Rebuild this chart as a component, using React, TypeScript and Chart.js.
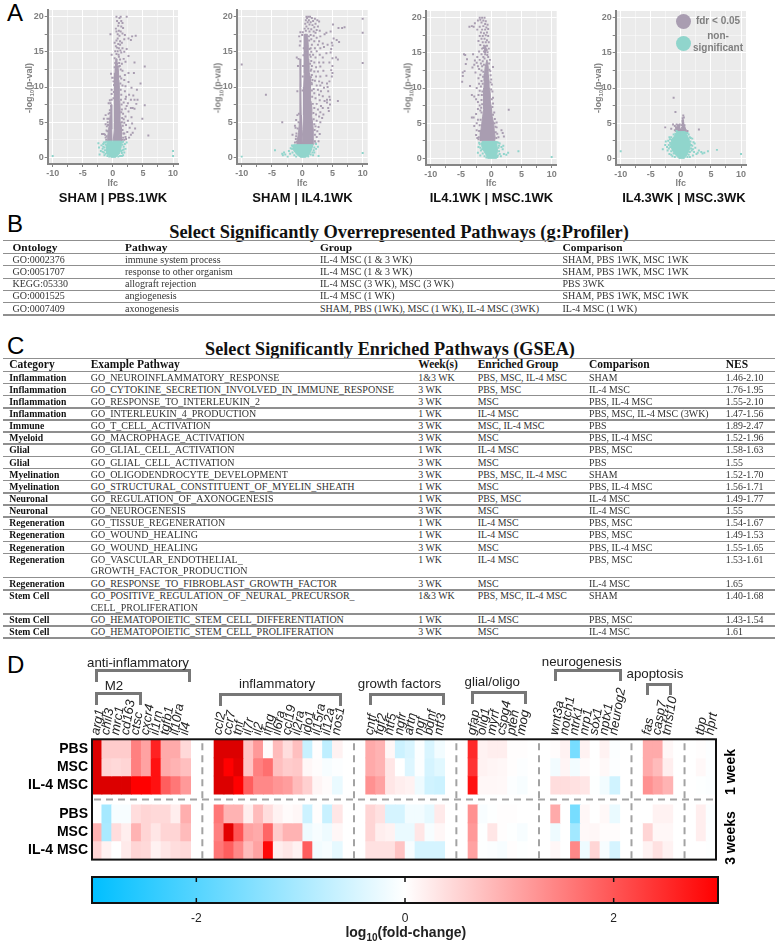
import React, { useEffect, useRef } from 'react';
import { Chart, registerables } from 'chart.js';
Chart.register(...registerables);

const SANS = '"Liberation Sans", Arial, sans-serif';
const SERIF = '"Liberation Serif", "Times New Roman", serif';
type P = [number, number];

// ---------- Panel A: volcano plots ----------
const xTickValues = [-10, -7.5, -5, -2.5, 0, 2.5, 5, 7.5, 10];
const yTickValues = [0, 2.5, 5, 7.5, 10, 12.5, 15, 17.5, 20];

const pbsSigCore: P[] = [[0.05,2.3],[1.5,2.3],[1.5,3],[1.4,4],[1.3,5],[1.2,6],[1.2,7],[1.15,8],[1.1,9],[1.05,10],[1,11],[0.95,12],[0.85,13],[0.7,14],[0.5,14],[0.35,12],[0.3,10],[0.3,8],[0.25,6],[0.2,4],[0.05,2.3]];
const pbsSigCoreLeft: P[] = [[-0.9,2.3],[-0.85,3],[-0.7,4],[-0.55,5],[-0.45,6],[-0.35,7],[-0.25,7.5],[-0.2,6],[-0.15,4],[-0.12,2.3],[-0.9,2.3]];
const pbsNsCore: P[] = [[-0.3,0],[0.5,0],[1.1,0.5],[1.4,1.5],[1.4,2.3],[-0.9,2.3],[-1.1,1.5],[-1,0.5],[-0.3,0]];
const pbsSigDots: P[] = [[0.6,20],[1.3,20],[2.3,20],[1.1,19.8],[0.7,19.4],[1.6,19.1],[0.9,18.7],[0.5,18.3],[1.4,18.6],[-0.4,17.5],[0.6,17.9],[1,18],[1.6,17.6],[2,17.4],[3.2,17.2],[3.8,17.3],[1.9,16.8],[2.6,16.9],[3,16.7],[0.8,16.9],[0.6,16.6],[1.2,16.5],[0.9,16.1],[1.5,16.3],[0.5,15.8],[1,15.5],[1.6,15.5],[2.3,15.4],[0.4,15.1],[1.4,14.9],[1.9,15],[2.6,14.4],[1,14.3],[0.3,14.1],[1.2,13.9],[-0.2,14.6],[1.8,14],[2.1,13.6],[3.6,13.5],[1.5,13.3],[0.7,13.3],[1,12.9],[5.3,12.9],[3.5,12],[2.6,12],[0.5,12.5],[1.6,12.3],[2,11.7],[1.4,11.2],[1.9,11],[-0.1,11.3],[-0.3,11.9],[2.6,10.7],[0.1,10.8],[4.6,10.5],[1.6,10.2],[2.1,10.1],[3.1,9.9],[4,9.6],[2,9.4],[-0.2,9.6],[-0.2,9],[2.7,8.9],[3.4,8.8],[2.2,8.6],[3,8.2],[3.6,8.2],[4.1,8.2],[2.1,8.3],[-0.5,8.1],[-0.7,7.7],[1.8,7.8],[2.5,7.7],[3.9,7.6],[5.3,7.4],[-0.3,7.3],[2.3,7.3],[3,7],[3.3,7],[3.6,6.9],[-0.5,6.7],[2.1,6.9],[2.6,6.5],[4.9,5.5],[-1.2,6],[-0.9,5.5],[-1.5,5.5],[2.1,5.8],[3.1,5.7],[2.5,5.2],[1.7,6.2],[1.8,5.4],[1.9,4.9],[3.2,4.8],[-1.2,4.7],[-1,4.4],[2.2,4.6],[2.8,4.2],[3.7,4.1],[2.4,3.6],[3.3,3.5],[5.9,3.1],[-1.8,3.3],[-1.5,3.3],[-1.3,3.2],[3,3.2],[2.7,2.8],[2.1,2.9],[1.9,3.4],
  [1.3,12.5],[1.2,11.5],[1.25,10.5],[1.3,9.6],[1.4,8.9],[1.35,8.2],[1.45,7.5],[1.5,6.8],[1.4,6.4],[1.55,5.6],[1.5,5],[1.65,4.5],[1.6,3.9],[1.75,3.4],[1.7,2.8],[1.6,2.5],[1.9,2.5],[2.2,2.6],[-1.1,2.5],[-1.05,3],[-1.2,2.8],[-0.9,3.7],[-1.05,3.8],[-0.8,4.6],[-0.85,5],[-0.65,5.5],[-0.7,6.2],[-0.5,6.3],[-0.4,7.7],[-0.2,8.2],[0.1,8.4],[0.15,9.3],[0.2,10.3],[0.25,11.3],[0.3,12.8],[0.4,13.4],[1.05,13.4],[1.15,13],[0.95,14.6],[0.6,14.7],[0.8,15.1],[1.25,15.2],[0.7,15.6],[1.2,16],[0.3,16.3],[1.1,17.3],[0.8,17.5],[1.3,17.9],[1.7,18.4],[1.4,19.4],[1,19.1]];
const pbsNsDots: P[] = [[-10,0.2],[10,0.9],[10,0.2],[-2.2,0.4],[-2,0.9],[-2.3,1.4],[-1.9,1.7],[-1.6,1.9],[-1.5,0.7],[-1.7,1.2],[1.9,0.7],[2.1,1.2],[2,1.9],[2.3,2.1],[1.7,0.3],[1.8,1.5],[-2.4,2],[-1.4,0.3],[1.5,0.2],
  [-1.3,1],[-1.2,1.8],[-1.4,1.4],[-1.3,2.1],[-1.1,2.2],[-1.2,0.5],[-0.9,0.2],[-0.6,0.1],[1.5,0.6],[1.2,0.2],[0.9,0.1],[1.6,1],[1.6,1.8],[1.7,2.2],[1.5,2.1],[1.8,1.1],[1.4,0.9],[-1.6,1.5],[-1.5,2.1],[-1.7,0.8]];

const il4SigCore: P[] = [[-0.05,1.8],[1.8,1.8],[1.85,2.5],[1.8,4],[1.7,5],[1.55,6],[1.6,7],[1.45,8],[1.45,9],[1.4,10],[1.3,11],[1.2,12],[1.15,13],[1.1,14],[1,15],[1,16],[0.9,17],[0.85,17.5],[0.45,17.5],[0.4,16],[0.35,14],[0.3,12],[0.25,10],[0.2,8],[0.2,6],[0.1,4],[-0.05,1.8]];
const il4SigCoreLeft: P[] = [[-0.9,1.8],[-0.8,2.5],[-0.6,3.5],[-0.45,5],[-0.38,7],[-0.38,10],[-0.36,14],[-0.27,14],[-0.22,10],[-0.17,6],[-0.12,1.8],[-0.9,1.8]];
const il4NsCore: P[] = [[-0.3,0],[0.6,0],[1.1,0.3],[1.5,1],[1.8,1.8],[-1.4,1.8],[-1.5,1.1],[-0.9,0.4],[-0.3,0]];
const il4SigDots: P[] = [[0.7,20],[1,20],[1.3,20],[0.8,19.8],[1.6,19.8],[2.1,19.7],[0.6,19.5],[1.1,19.5],[1.8,19.4],[2.5,19.5],[0.9,19.2],[1.4,19.2],[2.2,19],[2.8,19.3],[0.5,19],[1.2,18.9],[1.7,18.8],[0.7,18.6],[2,18.5],[2.6,18.6],[5.1,18.9],[6,18.4],[6.6,18.4],[7,18.5],[10,19.7],[0.4,18.3],[1,18.3],[1.5,18.2],[2.4,18.1],[2.9,18],[0.6,18],[1.2,17.9],[1.9,17.9],[2.2,17.7],[-0.3,17.8],[0.1,17.8],[4,17.7],[4.7,17.9],[10,17.7],[-0.5,17.2],[1.4,17.4],[1.9,17.3],[3,17.2],[2.4,17],[0,17.4],[3.7,17.5],[-0.3,16.5],[-0.4,15.9],[1.5,16.8],[2,16.5],[2.8,16.5],[5.2,16.9],[5.7,16.7],[6.1,16.4],[4.9,16.3],[1.6,16],[2.6,16],[3.4,16.2],[4.2,16],[5,15.9],[1.4,15.5],[2.1,15.5],[3,15.5],[3.6,15.7],[4.8,15.4],[1.5,15],[2.4,15.1],[1.8,14.6],[2.9,14.6],[4,14.8],[4.7,14.9],[1.4,14.3],[2.2,14.2],[3.4,14.2],[5,14.1],[5.6,14.2],[5.9,13.9],[-0.9,14.2],[-0.6,14],[1.5,13.7],[2,13.5],[2.8,13.5],[3.5,13.5],[4.5,13.5],[-10,13.2],[10,13.4],[-0.7,13],[1.6,13],[2.3,12.8],[3,12.9],[5,13],[1.5,12.5],[2,12.2],[2.6,12.2],[3.5,12.3],[4.8,12.4],[5,12],[1.6,11.7],[2.3,11.5],[3,11.5],[4,11.6],[4.9,11.5],[1.7,11],[2.1,10.9],[2.8,10.8],[3.3,10.6],[4.5,10.8],[4.1,10.5],[1.6,10.4],[2.4,10.2],[3,10.2],[3.6,9.9],[4.2,10],[-0.8,9.4],[1.9,9.7],[2.6,9.6],[3.1,9.4],[4.3,9.4],[-6,8.9],[2,9.1],[2.8,8.9],[3.4,8.7],[4.5,8.6],[4.1,8.2],[4.6,8.2],[5.9,8],[2.2,8.4],[2.9,8.1],[3.7,8],[4.1,7.8],[4.6,7.5],[2.4,7.6],[3.1,7.3],[3.4,7],[4.3,7],[4.4,6.6],[2,7],[2.6,6.8],[3,6.4],[3.5,6.1],[2.3,6.1],[2.8,5.8],[3.3,5.6],[-0.8,6],[-1,5.3],[2.4,5.2],[3,5],[-3.3,5],[-1.2,4.5],[-1.1,4.2],[2.2,4.4],[2.7,4.3],[2.5,3.7],[2.9,3.3],[2.4,2.9],[-1.6,3.2],[-1,3],[2.7,2.3],
  [1.75,7.6],[1.65,8.6],[1.6,9.5],[1.55,10.6],[1.45,11.4],[1.4,12.3],[1.3,13.3],[1.25,14.6],[1.2,15.4],[1.15,16.6],[1.1,17.2],[1.85,6.3],[1.9,5.4],[2,4.7],[2.05,3.9],[2.1,3.2],[2.1,2.3],[2.2,2],[0.25,15.5],[0.2,14.5],[0.15,13],[0.1,11.5],[0.05,9.5],[-0.55,6.2],[-0.6,5],[-0.75,4.1],[-0.95,3.4],[-1.05,2.6],[-1.2,2.1],[-0.9,2.2]];
const il4NsDots: P[] = [[-10,0.1],[10,0.6],[-4.5,1],[-3.3,0.5],[-3,0.7],[-2.8,0.4],[-3.2,0.3],[-2.2,0.9],[-2,0.5],[-1.9,1.3],[-1.7,1.7],[2.6,1.5],[2.3,1.9],[2.3,1.2],[2,0.7],[1.8,0.3],[2.7,0.2],[-2.4,0.1],
  [-1.6,0.7],[-1.3,0.3],[-1.7,1.2],[-1.6,1.6],[1.7,0.7],[1.4,0.4],[2,1.4],[1.9,1],[-1,0.1],[1,0.1]];

const mscSigCore: P[] = [[-1.8,2.5],[0.6,2.5],[0.65,3],[0.5,4],[0.4,5],[0.15,6],[0.05,7],[-0.1,8],[-0.15,9],[-0.25,10],[-0.35,11],[-0.5,12],[-0.5,13],[-0.7,14],[-0.8,14],[-1,13],[-1.1,12],[-1.15,11],[-1.2,10],[-1.2,9],[-1.2,8],[-1.3,7],[-1.4,6],[-1.55,5],[-1.7,4],[-1.8,3],[-1.8,2.5]];
const mscSigCoreLeft: P[] = [[-1.05,15],[-0.9,15],[-0.9,16],[-1.05,16],[-1.05,15]];
const mscNsCore: P[] = [[-0.6,0],[0.8,0],[0.9,0.5],[1.05,1],[0.9,2.4],[-1.5,2.4],[-1.6,1.8],[-1.2,1],[-0.85,0.5],[-0.6,0]];
const mscSigDots: P[] = [[-1.9,20],[-1.5,20],[-1.1,20],[-2.2,19.6],[-1.8,19.7],[-1.3,19.6],[-0.9,19.5],[-2.7,19.2],[-1.6,19.3],[-1,19.1],[-0.6,19],[-3.2,18.8],[-3.6,18.7],[-2.9,18.7],[-1.9,18.7],[-1.3,18.8],[-0.8,18.6],[-2.3,18.3],[-1.5,18.3],[-1,18.3],[-0.5,18.4],[-1.7,17.9],[-1.2,17.8],[-0.7,17.9],[-1.9,17.4],[-1.4,17.4],[-0.9,17.5],[-0.5,17.4],[-1.6,17],[-1.1,17],[-0.7,16.8],[-2.1,16.7],[-1.4,16.5],[-0.9,16.5],[-0.4,16.5],[-1.8,16.1],[-1.2,16],[-0.7,16],[-1.5,15.6],[-0.9,15.6],[-0.4,15.6],[-2,15.2],[-1.2,15.2],[-0.6,15.1],[-4.5,14.8],[-4.3,14.7],[-3,14.8],[-1.6,14.8],[-1,14.8],[-2.3,14.4],[-1.3,14.4],[-0.5,14.4],[-4,14.1],[-2.7,13.9],[-1.9,14],[-1.4,13.8],[-0.2,14],[-2.4,13.6],[-1.7,13.5],[-4.2,13.4],[-2.8,13.3],[-2.2,13.1],[-1.5,13.1],[0.3,13],[-3.1,12.9],[-2,12.7],[-1.6,12.5],[-0.3,12.6],[-2.6,12.2],[-4.7,12.2],[-4.4,12.4],[-1.8,11.9],[-0.1,11.8],[-4.7,11.7],[-2.1,11.4],[-1.6,11],[0,11.2],[-4.8,10.9],[-2,10.6],[-3.5,10.3],[-1.7,10.2],[0.1,10.5],[-2.4,10],[-1.9,9.6],[0.2,9.5],[-2.1,9],[-3.2,9],[-2.8,8.8],[-2.5,8.4],[-1.6,8.3],[0.3,8.6],[-2.2,8],[0.3,7.8],[-1.9,7.5],[-2.2,7],[2.9,6.9],[-1.8,6.8],[0.5,6.5],[-2.5,6.3],[-3.2,5.8],[-2.9,5.8],[-2.2,5.5],[0.6,5.6],[0.9,5.1],[-2.4,5],[-2.8,4.6],[0.9,4.4],[1.7,4],[1.9,3.6],[2.1,3.1],[-2.4,4],[-2.5,3.3],[1,3.5],[1.2,3],[-2.3,2.9],
  [-1.45,9.5],[-1.4,10.6],[-1.35,11.6],[-1.3,12.3],[-1.2,13.3],[-0.35,13.5],[-0.15,12.4],[-0.1,10.8],[0,9.8],[0.1,8.4],[0.2,7.3],[0.3,6.2],[0.55,5],[0.7,4.5],[0.75,3.7],[0.85,2.9],[-1.5,7.7],[-1.6,6.5],[-1.75,5.5],[-1.9,4.7],[-2,3.9],[-2.05,3],[-2.1,2.7],[-1.65,7.2],[-1.55,9],[-0.95,15.3],[-1.1,14.2],[-0.75,15.4],[-0.65,14.7],[-1.3,15.7]];
const mscNsDots: P[] = [[10,0.2],[4.5,1],[2.8,0.8],[2.1,0.6],[2.5,0.5],[1.7,1.6],[1.9,1.3],[2,1.8],[1.4,0.6],[1.6,0.3],[-2.2,0.8],[-1.8,0.4],[-2,2.2],[-2.1,1.6],[1.4,2.1],
  [-1.7,1.1],[-1.8,1.5],[-1.4,0.7],[-1.1,0.3],[-0.8,0.1],[1.2,1.5],[1.3,1],[1.1,0.4],[1,0.2],[1.2,2.2],[1,2.3],[-1.9,2],[-1.6,2.1],[1.3,1.8],[-1.5,1.3]];

const wk3SigCore: P[] = [[-0.8,3.8],[0.9,3.8],[0.8,4.1],[0.55,4.8],[0.35,4.8],[0.3,4.1],[-0.1,4.1],[-0.25,4.8],[-0.8,4.4],[-0.8,3.8]];
const wk3SigCoreLeft: P[] = [[0.25,4.8],[0.5,4.8],[0.45,5.5],[0.3,5.5],[0.25,4.8]];
const wk3NsCore: P[] = [[-0.35,0],[0.6,0],[1.05,0.5],[1.45,1.3],[1.6,2],[1.2,3],[0.75,3.8],[-0.6,3.8],[-1.2,3],[-1.75,2],[-1.45,1.2],[-0.9,0.5],[-0.35,0]];
const wk3SigDots: P[] = [[-1.2,8.6],[-0.9,6.6],[0.4,6.1],[0.3,5.7],[0.5,5.8],[0.3,5.3],[0.4,5],[-1.3,4.8],[-1,4.6],[-0.7,4.8],[-0.5,4.7],[-0.2,4.8],[0.1,4.7],[0.3,4.7],[0.6,4.7],[-1.6,4.2],[-2.6,4.4],[-0.8,4.4],[-0.6,4.2],[-0.3,4.5],[-0.1,4.1],[0.2,4.3],[0.4,4.2],[0.6,4.2],[0.8,4],[1.1,3.9],[3,4.1],[-1,4],[-0.7,3.9],[-0.4,4],[0,3.9],[0.3,3.9]];
const wk3NsDots: P[] = [[-10,1],[10,0.6],[6,1.2],[4.5,1],[3.9,0.8],[3.6,0.7],[3.4,0.9],[3,1.1],[2.8,0.8],[2.4,1.5],[2.6,0.6],[2.2,0.9],[2,1.3],[2.3,2.1],[1.9,2.8],[2,0.4],[1.5,0.2],[-2.3,1.6],[-2.1,2.5],[-2.5,2.4],[-2.2,1.1],[-1.9,0.6],[-1.4,0.3],[-1.6,3],[-1.2,3.4],[1.5,3],[1.3,3.4],[1.1,3.6],[-3,1.3],[-2.6,1.9],[1.9,1.8],[2.1,2.3],[-1.9,3],
  [-1.8,2.2],[-1.75,1.6],[-1.6,1],[-1.8,2.7],[-1.5,2.6],[-1.35,2.8],[-1.2,0.7],[-1,0.2],[-0.7,3.9],[-0.9,3.5],[0.9,3.6],[1.3,2.7],[1.6,2.4],[1.7,1.9],[1.7,1.4],[1.5,0.9],[1.3,0.5],[1.1,0.2],[1.65,2.9],[1.8,1.1],[-2,1.9],[-2,1.4],[-1.6,0.5]];

const volcanoTitles = ['SHAM | PBS.1WK', 'SHAM | IL4.1WK', 'IL4.1WK | MSC.1WK', 'IL4.3WK | MSC.3WK'];

// ---------- Panel B ----------
const gpHeaders = ['Ontology', 'Pathway', 'Group', 'Comparison'];
const gpOntology = ['GO:0002376', 'GO:0051707', 'KEGG:05330', 'GO:0001525', 'GO:0007409'];
const gpPathway = ['immune system process', 'response to other organism', 'allograft rejection', 'angiogenesis', 'axonogenesis'];
const gpGroup = ['IL-4 MSC (1 & 3 WK)', 'IL-4 MSC (1 & 3 WK)', 'IL-4 MSC (3 WK), MSC (3 WK)', 'IL-4 MSC (1 WK)', 'SHAM, PBS (1WK), MSC (1 WK), IL-4 MSC (3WK)'];
const gpComparison = ['SHAM, PBS 1WK, MSC 1WK', 'SHAM, PBS 1WK, MSC 1WK', 'PBS 3WK', 'SHAM, PBS 1WK, MSC 1WK', 'IL-4 MSC (1 WK)'];

// ---------- Panel C ----------
const gseaHeaders = ['Category', 'Example Pathway', 'Week(s)', 'Enriched Group', 'Comparison', 'NES'];
const gseaCategory = ['Inflammation','Inflammation','Inflammation','Inflammation','Immune','Myeloid','Glial','Glial','Myelination','Myelination','Neuronal','Neuronal','Regeneration','Regeneration','Regeneration','Regeneration','Regeneration','Stem Cell','Stem Cell','Stem Cell'];
const gseaPathway = ['GO_NEUROINFLAMMATORY_RESPONSE','GO_CYTOKINE_SECRETION_INVOLVED_IN_IMMUNE_RESPONSE','GO_RESPONSE_TO_INTERLEUKIN_2','GO_INTERLEUKIN_4_PRODUCTION','GO_T_CELL_ACTIVATION','GO_MACROPHAGE_ACTIVATION','GO_GLIAL_CELL_ACTIVATION','GO_GLIAL_CELL_ACTIVATION','GO_OLIGODENDROCYTE_DEVELOPMENT','GO_STRUCTURAL_CONSTITUENT_OF_MYELIN_SHEATH','GO_REGULATION_OF_AXONOGENESIS','GO_NEUROGENESIS','GO_TISSUE_REGENERATION','GO_WOUND_HEALING','GO_WOUND_HEALING','GO_VASCULAR_ENDOTHELIAL_\nGROWTH_FACTOR_PRODUCTION','GO_RESPONSE_TO_FIBROBLAST_GROWTH_FACTOR','GO_POSITIVE_REGULATION_OF_NEURAL_PRECURSOR_\nCELL_PROLIFERATION','GO_HEMATOPOIETIC_STEM_CELL_DIFFERENTIATION','GO_HEMATOPOIETIC_STEM_CELL_PROLIFERATION'];
const gseaWeeks = ['1&3 WK','3 WK','3 WK','1 WK','3 WK','3 WK','1 WK','3 WK','3 WK','1 WK','1 WK','3 WK','1 WK','1 WK','3 WK','1 WK','3 WK','1&3 WK','1 WK','3 WK'];
const gseaGroup = ['PBS, MSC, IL-4 MSC','PBS, MSC','MSC','IL-4 MSC','MSC, IL-4 MSC','MSC','IL-4 MSC','MSC','PBS, MSC, IL-4 MSC','MSC','PBS, MSC','MSC','IL-4 MSC','IL-4 MSC','MSC','IL-4 MSC','MSC','PBS, MSC, IL-4 MSC','IL-4 MSC','MSC'];
const gseaComparison = ['SHAM','IL-4 MSC','PBS, IL-4 MSC','PBS, MSC, IL-4 MSC (3WK)','PBS','PBS, IL-4 MSC','PBS, MSC','PBS','SHAM','PBS, IL-4 MSC','IL-4 MSC','IL-4 MSC','PBS, MSC','PBS, MSC','PBS, IL-4 MSC','PBS, MSC','IL-4 MSC','SHAM','PBS, MSC','IL-4 MSC'];
const gseaNes = ['1.46-2.10','1.76-1.95','1.55-2.10','1.47-1.56','1.89-2.47','1.52-1.96','1.58-1.63','1.55','1.52-1.70','1.56-1.71','1.49-1.77','1.55','1.54-1.67','1.49-1.53','1.55-1.65','1.53-1.61','1.65','1.40-1.68','1.43-1.54','1.61'];

// ---------- Panel D ----------
const geneGroups = [
  ['arg1','chil3','mrc1','cd163','ctsc','cxcr4','il1rn','tgfb1','il10ra','il4'],
  ['ccl2','ccr7','tnf','il7r','il2','ifng','il6ra','ccl19','il2ra','ido1','il15ra','il12a','nos1'],
  ['cntf','fgf2','ntf5','ngfr','artn','ngf','bdnf','ntf3'],
  ['gfap','olig1','myrf','cspg4','pten','mog'],
  ['wnt3a','notch1','ntrk1','nrp1','sox1','nptx1','neurog2'],
  ['fas','casp7','tnfsf10'],
  ['tbp','hprt'],
];
const rowLabels = ['PBS', 'MSC', 'IL-4 MSC', 'PBS', 'MSC', 'IL-4 MSC'];
const pbs1wk = [3.5,.6,.6,.6,1.5,1.1,2.6,1,1,.45, 3.5,3.5,3.5,.7,1.2,.05,.8,.4,.75,-.65,.02,-.75,.15, 1,.9,.1,-.6,-.45,-.05,-.45,-.15, 2.5,.15,.2,.2,.02,.02, .03,.15,-1.6,.15,0,.15,-.05, 1,1,.1, .02,-.03];
const msc1wk = [3.5,.5,.45,.5,1.5,1.1,2.8,1,.9,.75, 3.5,3,3.4,.7,1.5,1.7,.75,.6,.65,.1,.03,-.1,-.03, 1,.9,.3,0,-.4,-.05,-.5,-.35, 2.4,.15,.12,.1,.02,-.03, -.15,.12,-.15,.05,0,.08,-.04, 1,.8,.2, .08,-.04];
const il4msc1wk = [3.5,3.5,3.5,3.5,3,3,2.8,1.9,1.6,1.2, 3.5,3.5,3,1.9,1.4,1.4,1.25,1.15,.8,.55,.12,.05,-.25, 1.3,1.1,.3,.2,.15,-.2,-.55,-.6, 2.8,.1,.1,.08,-.03,-.1, .4,.4,.35,.3,-.02,-.15,-.55, 1.3,1.1,.9, -.02,-.05];
const pbs3wk = [0,-1.05,-.1,-.1,.4,.5,.45,.45,.2,.95, 1.6,.9,.9,.2,.8,.4,.15,.05,.1,-.6,.02,-.65,.3, .5,.35,-.5,-.5,-.15,-.15,-.3,.25, 1.3,-.08,-.02,.02,.02,0, 1,0,-1.6,.1,0,.08,-.25, 0,.15,.15, .2,-.05];
const msc3wk = [.9,-1,.4,.2,.9,.5,.3,.5,.5,.8, 1.5,3.4,2,1.1,1,1.8,.6,.9,.9,-.2,-.1,-.2,.1, .5,.2,.15,-.25,-.25,.3,-.1,.1, 1.2,-.02,.3,.02,-.02,-.1, -.2,0,-1.1,.08,.1,.03,.03, .5,.1,.1, .2,-.03];
const il4msc3wk = [.5,.15,0,.25,.5,.45,.15,.3,.4,.45, 1.6,1.9,1.4,.8,1.1,2.9,.2,.3,.15,1.9,-.15,-.1,-.3, .35,.35,.35,.7,-.1,-.5,-.5,-.5, 1.1,-.02,-.05,-.1,.02,-.02, .1,0,1.4,-.2,.5,-.1,-.5, .15,.35,.15, 0,-.02];
const heatRows = [pbs1wk, msc1wk, il4msc1wk, pbs3wk, msc3wk, il4msc3wk];
const colorbarRange: [number, number] = [-3, 3];
const colorbarTicks = [-2, 0, 2];

const PURPLE = '#a99db1';
const TEAL = '#90d5cc';

function heatColor(v: number) {
  if (v >= 0) {
    if (v > 3) {
      const t = Math.min(1, (v - 3) / 0.5);
      return `rgb(${255 - 35 * t},0,0)`;
    }
    const a = v / 3;
    return `rgb(255,${255 * (1 - a)},${255 * (1 - a)})`;
  }
  const a = Math.min(1, -v / 3);
  return `rgb(${255 * (1 - a)},${255 - 64 * a},255)`;
}

const toXY = (l: P[]) => l.map(([x, y]) => ({ x, y }));

function plotBackground(fill: string) {
  return {
    id: 'plotBg',
    beforeDraw(c: any) {
      const a = c.chartArea;
      c.ctx.save();
      c.ctx.fillStyle = fill;
      c.ctx.fillRect(a.left, a.top, a.right - a.left, a.bottom - a.top);
      c.ctx.restore();
    },
  };
}

function volcano(core: P[], coreB: P[], ns: P[], sigDots: P[], nsDots: P[], box: { w: number; h: number; l: number; r: number; t: number; b: number }) {
  const dots = (data: P[], color: string) => ({ data: toXY(data), backgroundColor: color, pointStyle: 'rect', pointRadius: 1.4, borderWidth: 0, showLine: false });
  const poly = (data: P[], color: string) => ({ data: toXY(data), backgroundColor: color, borderColor: color, borderWidth: 1, pointRadius: 0, showLine: true, fill: 'shape', tension: 0 });
  const tick = { color: '#808080', font: { family: SANS, size: 9, weight: 'bold' as const }, autoSkip: false, maxRotation: 0, callback: (v: number) => (v % 5 === 0 ? String(v) : '') };
  return {
    type: 'scatter',
    data: { datasets: [dots(nsDots, TEAL), poly(ns, TEAL), dots(sigDots, PURPLE), poly(core, PURPLE), poly(coreB, PURPLE)] },
    plugins: [plotBackground('#ebebeb')],
    options: {
      animation: false, responsive: false, devicePixelRatio: 1,
      layout: { padding: { top: box.t, right: box.r, left: 0, bottom: 0 } },
      plugins: { legend: { display: false }, tooltip: { enabled: false } },
      scales: {
        x: {
          type: 'linear', min: -10.83, max: 10.83,
          afterBuildTicks: (s: any) => { s.ticks = xTickValues.map((value) => ({ value })); },
          afterFit: (s: any) => { s.height = box.b; },
          border: { color: '#858585', width: 2 },
          grid: { color: (c: any) => (c.tick && c.tick.value % 5 === 0 ? '#ffffff' : 'rgba(255,255,255,.45)'), tickColor: '#858585', tickLength: 3, lineWidth: 1 },
          ticks: { ...tick, padding: 1 },
        },
        y: {
          type: 'linear', min: -0.95, max: 20.95,
          afterBuildTicks: (s: any) => { s.ticks = yTickValues.map((value) => ({ value })); },
          afterFit: (s: any) => { s.width = box.l; },
          border: { color: '#858585', width: 2 },
          grid: { color: (c: any) => (c.tick && c.tick.value % 5 === 0 ? '#ffffff' : 'rgba(255,255,255,.45)'), tickColor: '#858585', tickLength: 3, lineWidth: 1 },
          ticks: { ...tick, padding: 1 },
        },
      },
    },
  };
}

// Horizontal position of every heat-map column, in units of one column
const GROUP_GAP = 2.38;
const geneNames = geneGroups.flat();
const genePositions: number[] = [];
const groupSeparators: number[] = [];
(() => {
  let p = 0;
  geneGroups.forEach((g, gi) => {
    g.forEach(() => { genePositions.push(p); p += 1; });
    if (gi < geneGroups.length - 1) { groupSeparators.push(p - 0.5 + GROUP_GAP / 2); p += GROUP_GAP; }
  });
})();
const ROW_TOPS = [0, 1, 2, 3.59, 4.59, 5.59];

function heatmapConfig() {
  const pad = { t: 59.3, l: 92, r: 62, b: 2 };
  const overlay = {
    id: 'frame',
    afterDatasetsDraw(c: any) {
      const { ctx, chartArea: a, scales } = c;
      ctx.save();
      ctx.strokeStyle = '#a3a3a3';
      ctx.lineWidth = 2;
      ctx.setLineDash([7, 5]);
      groupSeparators.forEach((s) => {
        const x = scales.x.getPixelForValue(s);
        ctx.beginPath(); ctx.moveTo(x, a.top + 4); ctx.lineTo(x, a.bottom); ctx.stroke();
      });
      const y = scales.y.getPixelForValue(3.295);
      ctx.beginPath(); ctx.moveTo(a.left + 2, y); ctx.lineTo(a.right, y); ctx.stroke();
      ctx.setLineDash([]);
      ctx.strokeStyle = '#111';
      ctx.lineWidth = 2;
      ctx.strokeRect(a.left, a.top, a.right - a.left, a.bottom - a.top);
      ctx.restore();
    },
  };
  return {
    type: 'bar',
    data: {
      datasets: heatRows.map((row, r) => ({
        data: row.map((_, i) => ({ x: genePositions[i], y: [ROW_TOPS[r], ROW_TOPS[r] + 1] })),
        backgroundColor: row.map(heatColor),
        borderWidth: 0,
        barThickness: 10,
        grouped: false,
      })),
    },
    plugins: [overlay],
    options: {
      animation: false, responsive: false, devicePixelRatio: 1,
      layout: { padding: { top: 0, left: 0, right: pad.r, bottom: pad.b } },
      plugins: { legend: { display: false }, tooltip: { enabled: false } },
      scales: {
        x: {
          type: 'linear', position: 'top', offset: false, min: -0.5, max: genePositions[genePositions.length - 1] + 0.5,
          afterBuildTicks: (s: any) => { s.ticks = genePositions.map((value) => ({ value })); },
          afterFit: (s: any) => { s.height = pad.t; },
          border: { display: false },
          grid: { display: false, drawTicks: false },
          ticks: {
            autoSkip: false, minRotation: 80, maxRotation: 80, padding: 3, labelOffset: 14, color: '#222',
            font: { family: SANS, size: 13, style: 'italic' as const },
            callback: (v: number) => geneNames[genePositions.indexOf(v)] ?? '',
          },
        },
        y: {
          type: 'linear', reverse: true, min: -0.03, max: 6.62,
          afterBuildTicks: (s: any) => { s.ticks = ROW_TOPS.map((t) => ({ value: t + 0.5 })); },
          afterFit: (s: any) => { s.width = pad.l; },
          border: { display: false },
          grid: { display: false, drawTicks: false },
          ticks: {
            autoSkip: false, padding: 4, color: '#000',
            font: { family: SANS, size: 14, weight: 'bold' as const },
            callback: (v: number) => rowLabels[ROW_TOPS.indexOf(v - 0.5)] ?? '',
          },
        },
      },
    },
  };
}

function colorbarConfig() {
  const overlay = {
    id: 'cbFrame',
    afterDatasetsDraw(c: any) {
      const { ctx, chartArea: a, scales } = c;
      ctx.save();
      ctx.strokeStyle = '#111';
      ctx.lineWidth = 1.5;
      colorbarTicks.forEach((t) => {
        const x = scales.x.getPixelForValue(t);
        ctx.beginPath(); ctx.moveTo(x, a.top); ctx.lineTo(x, a.top + 5);
        ctx.moveTo(x, a.bottom - 5); ctx.lineTo(x, a.bottom); ctx.stroke();
      });
      ctx.lineWidth = 2;
      ctx.strokeRect(a.left, a.top, a.right - a.left, a.bottom - a.top);
      ctx.restore();
    },
  };
  return {
    type: 'bar',
    data: {
      labels: ['log10(fold-change)'],
      datasets: [{
        data: [colorbarRange],
        barPercentage: 1, categoryPercentage: 1, borderWidth: 0,
        backgroundColor: (ctx: any) => {
          const a = ctx.chart.chartArea;
          if (!a) return '#fff';
          const g = ctx.chart.ctx.createLinearGradient(a.left, 0, a.right, 0);
          g.addColorStop(0, '#00bfff');
          g.addColorStop(0.5, '#ffffff');
          g.addColorStop(1, '#ff0000');
          return g;
        },
      }],
    },
    plugins: [overlay],
    options: {
      indexAxis: 'y', animation: false, responsive: false, devicePixelRatio: 1,
      layout: { padding: { top: 7, left: 92, right: 60, bottom: 0 } },
      plugins: { legend: { display: false }, tooltip: { enabled: false } },
      scales: {
        x: {
          type: 'linear', min: colorbarRange[0], max: colorbarRange[1],
          afterBuildTicks: (s: any) => { s.ticks = colorbarTicks.map((value) => ({ value })); },
          afterFit: (s: any) => { s.height = 22; },
          border: { display: false },
          grid: { display: false, drawTicks: false },
          ticks: { padding: 8, color: '#222', font: { family: SANS, size: 12 } },
        },
        y: { display: false },
      },
    },
  };
}

function ChartCanvas({ left, top, width, height, make }: { left: number; top: number; width: number; height: number; make: () => any }) {
  const ref = useRef<HTMLCanvasElement>(null);
  useEffect(() => {
    const chart = new Chart(ref.current as HTMLCanvasElement, make());
    return () => chart.destroy();
  }, []);
  return <canvas ref={ref} width={width} height={height} style={{ position: 'absolute', left, top, width, height, display: 'block' }} />;
}

function Label({ x, y, children, size = 12, weight = 400, color = '#000', family = SANS, anchor = 'center', rotate = 0 }: any) {
  const tx = anchor === 'center' ? '-50%' : anchor === 'right' ? '-100%' : '0';
  return (
    <div style={{ position: 'absolute', left: x, top: y, transform: `translate(${tx},-50%) rotate(${rotate}deg)`, fontFamily: family, fontSize: size, fontWeight: weight, color, whiteSpace: 'pre', lineHeight: 1 }}>
      {children}
    </div>
  );
}

function Rule({ y, x0 = 3, x1 = 775, color = '#8f8f8f', h = 1.5 }: any) {
  return <div style={{ position: 'absolute', left: x0, top: y - h / 2, width: x1 - x0, height: h, background: color }} />;
}

function Bracket({ x0, x1, top, bottom }: any) {
  return <div style={{ position: 'absolute', left: x0 - 1.5, top: top - 1.5, width: x1 - x0, height: bottom - top, borderLeft: '3px solid #777', borderRight: '3px solid #777', borderTop: '3px solid #777' }} />;
}

const volcanoBoxes = [
  { left: 18, top: 0, plotL: 47.7, plotR: 178, plotT: 10, plotB: 164, titleX: 113, titleY: 197, yTitleX: 29, core: pbsSigCore, coreB: pbsSigCoreLeft, ns: pbsNsCore, sig: pbsSigDots, nsd: pbsNsDots },
  { left: 207, top: 0, plotL: 236.7, plotR: 367.7, plotT: 10, plotB: 164, titleX: 302.5, titleY: 197, yTitleX: 218, core: il4SigCore, coreB: il4SigCoreLeft, ns: il4NsCore, sig: il4SigDots, nsd: il4NsDots },
  { left: 396, top: 1, plotL: 425.7, plotR: 556.7, plotT: 11, plotB: 165, titleX: 491.5, titleY: 197, yTitleX: 408, core: mscSigCore, coreB: mscSigCoreLeft, ns: mscNsCore, sig: mscSigDots, nsd: mscNsDots },
  { left: 586, top: 1, plotL: 615.7, plotR: 746, plotT: 11, plotB: 165, titleX: 684, titleY: 197, yTitleX: 598, core: wk3SigCore, coreB: wk3SigCoreLeft, ns: wk3NsCore, sig: wk3SigDots, nsd: wk3NsDots },
];

const gpX = [12.5, 125, 320, 562.5];
const gpRules = [240.7, 253.7, 265.7, 278.3, 290.3, 302.3, 315];
const gseaX = [9.3, 90.7, 418.3, 477.7, 589, 725.7];

export default function App() {
  useEffect(() => { document.body.style.margin = '0'; }, []);

  // Table C row tops
  const gseaTops: number[] = [];
  let yy = 371.3;
  gseaPathway.forEach((p) => { gseaTops.push(yy); yy += p.includes('\n') ? 24.1 : 12.15; });
  const gseaEnd = yy;

  return (
    <div style={{ position: 'absolute', left: 0, top: 0, width: 778, height: 942, overflow: 'hidden', background: '#fff' }}>
      <Label x={7} y={13} size={24} anchor="left">A</Label>
      <Label x={7} y={224} size={24} anchor="left">B</Label>
      <Label x={7} y={346} size={24} anchor="left">C</Label>
      <Label x={7} y={665} size={24} anchor="left">D</Label>

      {volcanoBoxes.map((b, i) => {
        const w = 178 - 18 + 6, h = 182;
        const box = { w, h, l: b.plotL - b.left, r: b.left + w - b.plotR, t: b.plotT - b.top, b: b.top + h - b.plotB };
        return (
          <React.Fragment key={i}>
            <ChartCanvas left={b.left} top={b.top} width={w} height={h} make={() => volcano(b.core, b.coreB, b.ns, b.sig, b.nsd, box)} />
            <Label x={(b.plotL + b.plotR) / 2} y={182.5} size={9} weight={700} color="#7f7f7f">lfc</Label>
            <Label x={b.yTitleX} y={87.5} size={9} weight={700} color="#7f7f7f" rotate={-90}>
              -log<sub style={{ fontSize: 6, verticalAlign: 'sub', lineHeight: 0 }}>10</sub>(p-val)
            </Label>
            <Label x={b.titleX} y={b.titleY} size={13} weight={700} color="#111">{volcanoTitles[i]}</Label>
          </React.Fragment>
        );
      })}

      <div style={{ position: 'absolute', left: 675.5, top: 13.5, width: 15, height: 15, borderRadius: '50%', background: PURPLE }} />
      <div style={{ position: 'absolute', left: 675.5, top: 36, width: 15, height: 15, borderRadius: '50%', background: TEAL }} />
      <Label x={718} y={21} size={10} weight={700} color="#7f7f7f">fdr {'<'} 0.05</Label>
      <Label x={718} y={36} size={10} weight={700} color="#7f7f7f">non-</Label>
      <Label x={718} y={48} size={10} weight={700} color="#7f7f7f">significant</Label>

      <Label x={399} y={232} size={18.4} weight={700} family={SERIF} color="#111">Select Significantly Overrepresented Pathways (g:Profiler)</Label>
      {gpRules.map((y, i) => <Rule key={i} y={y} />)}
      {gpHeaders.map((t, i) => <Label key={i} x={gpX[i]} y={247.5} size={11.4} weight={700} family={SERIF} anchor="left" color="#111">{t}</Label>)}
      {[gpOntology, gpPathway, gpGroup, gpComparison].map((col, c) =>
        col.map((t, r) => <Label key={`${c}-${r}`} x={gpX[c]} y={(gpRules[r + 1] + gpRules[r + 2]) / 2} size={10} family={SERIF} anchor="left" color="#333">{t}</Label>),
      )}

      <Label x={390} y={349} size={18.2} weight={700} family={SERIF} color="#111">Select Significantly Enriched Pathways (GSEA)</Label>
      <Rule y={358.3} />
      <Rule y={371.3} />
      {gseaHeaders.map((t, i) => <Label key={i} x={gseaX[i]} y={365.3} size={11.5} weight={700} family={SERIF} anchor="left" color="#111">{t}</Label>)}
      {gseaPathway.map((p, r) => {
        const y = gseaTops[r] + 6.2;
        const bottom = r + 1 < gseaTops.length ? gseaTops[r + 1] : gseaEnd;
        const lines = p.split('\n');
        return (
          <React.Fragment key={r}>
            <Rule y={bottom} />
            <Label x={gseaX[0]} y={y} size={9.7} weight={700} family={SERIF} anchor="left" color="#111">{gseaCategory[r]}</Label>
            {lines.map((l, j) => <Label key={j} x={gseaX[1]} y={y + j * 11.7} size={10} family={SERIF} anchor="left" color="#333">{l}</Label>)}
            <Label x={gseaX[2]} y={y} size={9.9} family={SERIF} anchor="left" color="#333">{gseaWeeks[r]}</Label>
            <Label x={gseaX[3]} y={y} size={9.9} family={SERIF} anchor="left" color="#333">{gseaGroup[r]}</Label>
            <Label x={gseaX[4]} y={y} size={9.9} family={SERIF} anchor="left" color="#333">{gseaComparison[r]}</Label>
            <Label x={gseaX[5]} y={y} size={9.9} family={SERIF} anchor="left" color="#333">{gseaNes[r]}</Label>
          </React.Fragment>
        );
      })}

      <ChartCanvas left={0} top={680} width={778} height={192} make={heatmapConfig} />
      <ChartCanvas left={0} top={870} width={778} height={55} make={colorbarConfig} />

      <Bracket x0={96} x1={186} top={670.7} bottom={681} />
      <Label x={138} y={662.7} size={13.3} color="#222">anti-inflammatory</Label>
      <Bracket x0={96} x1={137} top={693} bottom={703} />
      <Label x={114} y={686} size={13.3} color="#222">M2</Label>
      <Bracket x0={220} x1={337} top={694} bottom={704} />
      <Label x={277} y={684} size={13.3} color="#222">inflammatory</Label>
      <Bracket x0={370} x1={440} top={694} bottom={703} />
      <Label x={399.5} y={684} size={13.3} color="#222">growth factors</Label>
      <Bracket x0={472.7} x1={522.7} top={692} bottom={702} />
      <Label x={492.3} y={682.3} size={13.3} color="#222">glial/oligo</Label>
      <Bracket x0={555} x1={617} top={670.7} bottom={680} />
      <Label x={581.7} y={661.7} size={13.3} color="#222">neurogenesis</Label>
      <Bracket x0={647.7} x1={667.7} top={684.7} bottom={694} />
      <Label x={655} y={674.3} size={13.3} color="#222">apoptosis</Label>

      <Label x={730} y={771.7} size={14} weight={700} rotate={-90}>1 week</Label>
      <Label x={730} y={838} size={14} weight={700} rotate={-90}>3 weeks</Label>

      <Label x={405.8} y={932} size={14} weight={700} color="#222">
        log<sub style={{ fontSize: 10, verticalAlign: 'sub', lineHeight: 0 }}>10</sub>(fold-change)
      </Label>
    </div>
  );
}
